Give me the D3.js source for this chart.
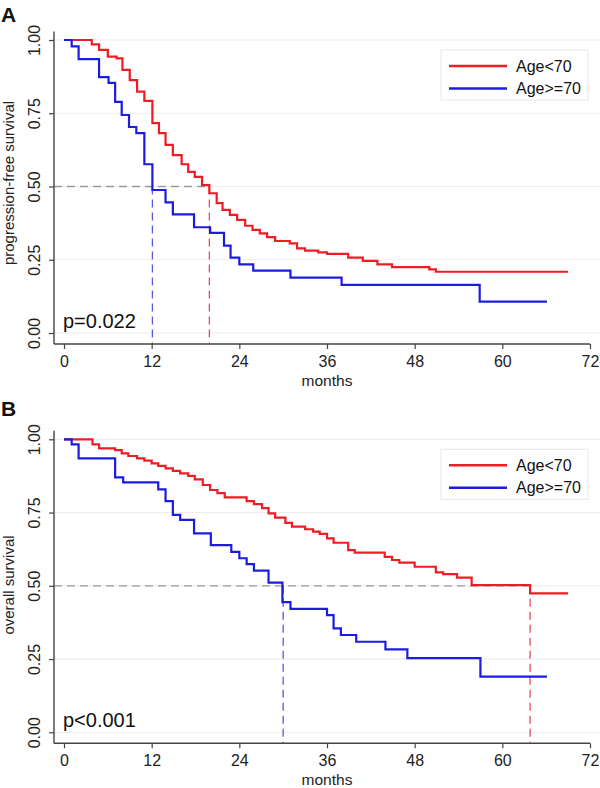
<!DOCTYPE html>
<html>
<head>
<meta charset="utf-8">
<script src="https://cdn.jsdelivr.net/npm/d3@7"></script>
<style>
  html, body { margin: 0; padding: 0; background: #fff; }
  svg { display: block; font-family: "Liberation Sans", Arial, Helvetica, sans-serif; }
</style>
</head>
<body>
<svg id="chart" width="600" height="788"></svg>
<script>
// ---------------- DATA ----------------
const xTicks = [0, 12, 24, 36, 48, 60, 72];
const yTicks = [0, 0.25, 0.5, 0.75, 1.0];
const groupLabels = ["Age<70", "Age>=70"];

// Panel A: progression-free survival
const pfsYoungTimes = [0, 3.8, 4.8, 6.0, 7.2, 8.0, 9.0, 10.0, 11.0, 12.1, 13.0, 13.9, 14.9, 16.1, 17.0, 17.9, 18.9, 19.9, 20.9, 21.7, 22.7, 23.7, 24.8, 25.8, 26.8, 27.8, 28.9, 30.9, 31.9, 33.0, 34.8, 36.0, 38.9, 40.9, 42.9, 44.9, 50.0, 50.9];
const pfsYoungSurv  = [1.0, 0.985, 0.966, 0.943, 0.937, 0.898, 0.863, 0.824, 0.792, 0.716, 0.682, 0.642, 0.607, 0.576, 0.550, 0.533, 0.505, 0.477, 0.443, 0.420, 0.403, 0.386, 0.366, 0.352, 0.340, 0.327, 0.314, 0.306, 0.289, 0.281, 0.275, 0.270, 0.257, 0.246, 0.234, 0.225, 0.217, 0.209];
const pfsYoungEnd = 69.0;
const pfsOldTimes = [0, 1.05, 2.0, 4.8, 6.1, 7.0, 7.9, 8.9, 9.9, 11.0, 12.1, 13.9, 14.9, 17.8, 20.0, 21.9, 22.8, 24.0, 25.9, 31.0, 38.0, 56.9];
const pfsOldSurv  = [1.0, 0.978, 0.935, 0.873, 0.854, 0.789, 0.744, 0.703, 0.682, 0.576, 0.488, 0.446, 0.405, 0.361, 0.342, 0.298, 0.257, 0.234, 0.213, 0.189, 0.164, 0.107];
const pfsOldEnd = 66.1;
const pfsMedians = [19.9, 12.1];   // young, old
const pfsP = "p=0.022";

// Panel B: overall survival
const osYoungTimes = [0, 3.9, 4.8, 7.0, 7.9, 8.8, 10.0, 11.0, 12.0, 12.9, 13.9, 14.9, 15.9, 17.0, 17.9, 19.0, 20.0, 21.0, 22.0, 25.0, 26.0, 27.1, 28.0, 28.9, 30.3, 31.2, 33.0, 34.1, 35.0, 36.0, 36.9, 38.9, 39.8, 43.9, 44.9, 45.9, 48.0, 50.9, 51.9, 53.8, 55.8, 63.8];
const osYoungSurv  = [1.0, 0.983, 0.969, 0.963, 0.952, 0.943, 0.935, 0.927, 0.918, 0.909, 0.901, 0.892, 0.884, 0.875, 0.863, 0.844, 0.827, 0.816, 0.802, 0.789, 0.779, 0.765, 0.747, 0.733, 0.715, 0.702, 0.693, 0.685, 0.677, 0.662, 0.647, 0.622, 0.613, 0.599, 0.588, 0.579, 0.565, 0.546, 0.540, 0.528, 0.502, 0.474];
const osYoungEnd = 69.0;
const osOldTimes = [0, 1.05, 2.0, 7.0, 8.1, 12.9, 13.9, 14.9, 15.9, 17.8, 20.1, 22.9, 24.0, 25.0, 26.0, 28.0, 29.9, 31.0, 36.0, 36.9, 37.9, 40.0, 44.0, 47.0, 57.0];
const osOldSurv  = [1.0, 0.983, 0.935, 0.870, 0.853, 0.829, 0.789, 0.742, 0.725, 0.679, 0.639, 0.616, 0.594, 0.574, 0.552, 0.511, 0.444, 0.421, 0.400, 0.355, 0.332, 0.309, 0.283, 0.253, 0.190];
const osOldEnd = 66.1;
const osMedians = [63.8, 30.0];
const osP = "p<0.001";

// ---------------- STYLE / LAYOUT ----------------
const RED = "#ee1c24", BLUE = "#1c1ce0";
const RED_D = "#e0505a", BLUE_D = "#5a5ae0";
const svg = d3.select("#chart");

function panel(opt) {
  const g = svg.append("g");
  const x = d3.scaleLinear().domain([0, 72]).range([64, 590]);
  const y = d3.scaleLinear().domain([0, 1]).range([opt.y0, opt.y0 - 293]);
  const axX = 54, axY = opt.y0 + 11;

  // gridlines
  g.append("g").selectAll("line").data(yTicks).join("line")
    .attr("x1", axX).attr("x2", 600)
    .attr("y1", d => y(d)).attr("y2", d => y(d))
    .attr("stroke", "#eeeeee").attr("stroke-width", 1.2);

  // median dashed lines
  const med = opt.medians;
  g.append("line").attr("x1", axX).attr("x2", x(d3.max(med)))
    .attr("y1", y(0.5)).attr("y2", y(0.5))
    .attr("stroke", "#9a9a9a").attr("stroke-width", 1.3).attr("stroke-dasharray", "8,5");
  [[med[0], RED_D], [med[1], BLUE_D]].forEach(([m, c]) => {
    g.append("line").attr("x1", x(m)).attr("x2", x(m))
      .attr("y1", y(0.5)).attr("y2", axY)
      .attr("stroke", c).attr("stroke-width", 1.3).attr("stroke-dasharray", "8,5");
  });

  // curves
  const line = d3.line().x(d => x(d[0])).y(d => y(d[1])).curve(d3.curveStepAfter);
  const series = [
    [opt.youngT, opt.youngS, opt.youngEnd, RED],
    [opt.oldT, opt.oldS, opt.oldEnd, BLUE]
  ];
  series.forEach(([T, S, end, c]) => {
    const pts = T.map((t, i) => [t, S[i]]);
    pts.push([end, S[S.length - 1]]);
    g.append("path").attr("d", line(pts)).attr("fill", "none")
      .attr("stroke", c).attr("stroke-width", 2.2);
  });

  // axes
  const yAxis = g.append("g").attr("transform", `translate(${axX},0)`)
    .call(d3.axisLeft(y).tickValues(yTicks).tickFormat(d3.format(".2f")).tickSize(5).tickSizeOuter(0));
  yAxis.select(".domain").remove();
  yAxis.selectAll(".tick line").attr("stroke", "#444").attr("stroke-width", 1.2);
  yAxis.selectAll(".tick text")
    .attr("transform", "rotate(-90)").attr("x", 0).attr("y", -14).attr("dy", 0)
    .attr("text-anchor", "middle").attr("font-size", 16).attr("fill", "#222")
    .attr("font-family", "Liberation Sans, Arial, sans-serif");

  const xAxis = g.append("g").attr("transform", `translate(0,${axY})`)
    .call(d3.axisBottom(x).tickValues(xTicks).tickSize(5).tickSizeOuter(0));
  xAxis.select(".domain").remove();
  xAxis.selectAll(".tick line").attr("stroke", "#444").attr("stroke-width", 1.2);
  xAxis.selectAll(".tick text").attr("y", 23).attr("dy", 0)
    .attr("font-size", 16).attr("fill", "#222")
    .attr("font-family", "Liberation Sans, Arial, sans-serif");

  // axis lines (L-shaped frame)
  g.append("line").attr("x1", axX).attr("x2", axX).attr("y1", y(1) - 8.5).attr("y2", axY)
    .attr("stroke", "#444").attr("stroke-width", 1.4);
  g.append("line").attr("x1", axX).attr("x2", x(72)).attr("y1", axY).attr("y2", axY)
    .attr("stroke", "#444").attr("stroke-width", 1.4);

  // axis titles
  g.append("text").attr("x", 327).attr("y", axY + 42).attr("text-anchor", "middle")
    .attr("font-size", 15.5).attr("fill", "#222").text("months");
  g.append("text").attr("transform", `translate(14,${opt.yLabelCenter}) rotate(-90)`)
    .attr("text-anchor", "middle").attr("font-size", 15).attr("fill", "#222").text(opt.yLabel);

  // panel letter
  g.append("text").attr("x", 1).attr("y", opt.letterY).attr("font-size", 21)
    .attr("font-weight", "bold").attr("fill", "#111").text(opt.letter);

  // p value
  g.append("text").attr("x", 63).attr("y", opt.y0 - 5).attr("font-size", 20)
    .attr("fill", "#111").text(opt.p);

  // legend
  const lx = 441, ly = opt.y0 - 283;
  const lg = g.append("g").attr("transform", `translate(${lx},${ly})`);
  lg.append("rect").attr("width", 147).attr("height", 50)
    .attr("fill", "#fff").attr("stroke", "#ececec").attr("stroke-width", 1.2);
  [[RED, groupLabels[0]], [BLUE, groupLabels[1]]].forEach(([c, t], i) => {
    lg.append("line").attr("x1", 8).attr("x2", 66)
      .attr("y1", 16 + i * 22.5).attr("y2", 16 + i * 22.5)
      .attr("stroke", c).attr("stroke-width", 2.5);
    lg.append("text").attr("x", 75).attr("y", 22 + i * 21.5)
      .attr("font-size", 16).attr("fill", "#111").text(t);
  });
}

panel({
  y0: 333, letter: "A", letterY: 22, yLabel: "progression-free survival", yLabelCenter: 183,
  youngT: pfsYoungTimes, youngS: pfsYoungSurv, youngEnd: pfsYoungEnd,
  oldT: pfsOldTimes, oldS: pfsOldSurv, oldEnd: pfsOldEnd,
  medians: pfsMedians, p: pfsP
});
panel({
  y0: 732.3, letter: "B", letterY: 416, yLabel: "overall survival", yLabelCenter: 585,
  youngT: osYoungTimes, youngS: osYoungSurv, youngEnd: osYoungEnd,
  oldT: osOldTimes, oldS: osOldSurv, oldEnd: osOldEnd,
  medians: osMedians, p: osP
});
</script>
</body>
</html>
